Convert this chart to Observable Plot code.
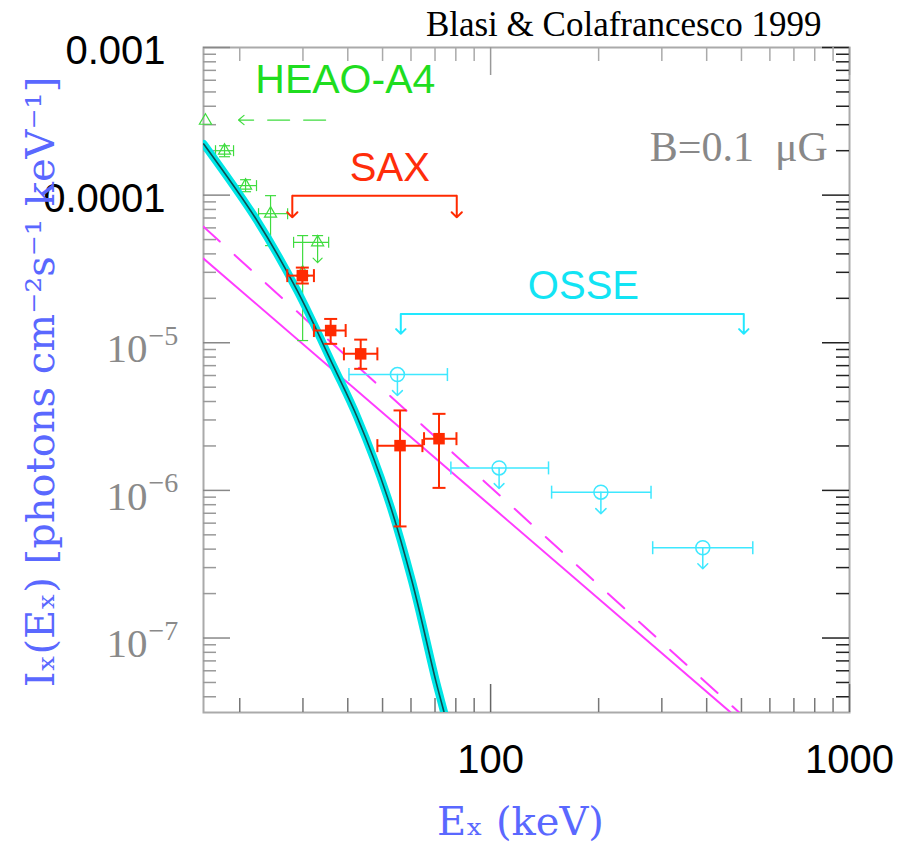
<!DOCTYPE html>
<html>
<head>
<meta charset="utf-8">
<script src="https://cdn.jsdelivr.net/npm/d3@7"></script>
<script src="https://cdn.jsdelivr.net/npm/@observablehq/plot@0.6"></script>
<style>
  body { margin: 0; background: #fff; }
</style>
</head>
<body>
<div id="chart"></div>
<script>
// Hard X-ray spectrum of the Coma cluster: data vs. model, B = 0.1 μG
// Energies in keV, intensities in photons cm^-2 s^-1 keV^-1.

// Axis ranges and ticks
const xDomain = [15.85, 1000];
const yDomain = [3.13e-8, 1e-3];
const xMajor = [100, 1000];
const xMinor = [20, 30, 40, 50, 60, 70, 80, 90, 200, 300, 400, 500, 600, 700, 800, 900];
const yMajor = [1e-3, 1e-4, 1e-5, 1e-6, 1e-7];
const yMinorMantissa = [2, 3, 4, 5, 6, 7, 8, 9];
const yMinorDecades = [1e-8, 1e-7, 1e-6, 1e-5, 1e-4];
const xTickText = ["100", "1000"];
const ySansTicks = [1e-3, 1e-4];
const ySansText = ["0.001", "0.0001"];
const yPowTicks = [1e-5, 1e-6, 1e-7];
const yPowExp = ["\u22125", "\u22126", "\u22127"];

// HEAO-A4
const heaoE    = [16.05, 18.14, 20.76, 24.37, 29.94, 32.96];
const heaoI    = [3.19e-4, 2.00e-4, 1.16e-4, 7.49e-5, 2.99e-5, 4.79e-5];
const heaoELo  = [null, 17.12, 19.22, 22.56, null, 28.25];
const heaoEHi  = [null, 19.22, 22.27, 27.19, null, 35.38];
const heaoILo  = [null, 1.82e-4, 1.055e-4, 4.55e-5, 1.035e-5, null];
const heaoIHi  = [null, 2.16e-4, 1.272e-4, 9.92e-5, 5.32e-5, 5.32e-5];
const heaoLim  = [null, null, null, null, null, 3.49e-5];
const heaoBandE = [34.70, 19.84];
const heaoBandI = 3.226e-4;

// BeppoSAX PDS
const saxE   = [29.88, 35.84, 43.45, 55.93, 71.82];
const saxI   = [2.85e-5, 1.21e-5, 8.41e-6, 2.01e-6, 2.24e-6];
const saxELo = [27.13, 32.19, 39.02, 48.36, 65.24];
const saxEHi = [32.19, 39.46, 48.36, 64.57, 80.33];
const saxILo = [2.52e-5, 9.83e-6, 6.66e-6, 5.70e-7, 1.04e-6];
const saxIHi = [3.23e-5, 1.45e-5, 1.05e-5, 3.48e-6, 3.30e-6];
const saxBandE = [28.02, 80.48];
const saxBandI = [9.92e-5, 7.07e-5];

// CGRO OSSE upper limits
const osseE   = [55.0, 105.6, 202.9, 390.1];
const osseI   = [6.09e-6, 1.42e-6, 9.73e-7, 4.09e-7];
const osseELo = [40.3, 77.5, 147.9, 282.9];
const osseEHi = [75.8, 145.0, 279.9, 537.7];
const osseLim = [4.39e-6, 1.03e-6, 6.95e-7, 2.95e-7];
const osseBandE = [56.2, 507.5];
const osseBandI = [1.569e-5, 1.149e-5];

// Models
const modelE = [15.87, 22.36, 28.9, 36.6, 42.5, 51.6, 60.3, 70.3, 74.2, 75.96];
const modelI = [2.22e-4, 6.71e-5, 2.26e-5, 6.83e-6, 3.13e-6, 9.0e-7, 2.46e-7, 5.17e-8, 3.14e-8, 2.49e-8];
const icsSolidE = [15.85, 466];
const icsSolidI = [3.72e-5, 3.14e-8];
const icsDashE  = [15.85, 492];
const icsDashI  = [6.11e-5, 3.14e-8];

// Label anchors
const heaoLabel = {e: 22.1, i: 4.94e-4, text: "HEAO-A4"};
const saxLabel  = {e: 52.4, i: 1.252e-4, text: "SAX"};
const osseLabel = {e: 181.4, i: 1.99e-5, text: "OSSE"};
const fieldLabel = {e: 869.8, i: 1.711e-4, text: "B=0.1  \u03bcG"};

// ---------------------------------------------------------------
const yMinor = yMinorDecades.flatMap(d => yMinorMantissa.map(m => m * d))
  .filter(v => v >= yDomain[0] && v <= yDomain[1]);

const W = 899, H = 848;
const mL = 203, mR = 50, mT = 47, mB = 136;
const FW = W - mL - mR, FH = H - mT - mB;

const zipRows = (cols) => cols.e.map((_, k) =>
  Object.fromEntries(Object.entries(cols).map(([key, arr]) => [key, arr[k]])));

const heao = zipRows({e: heaoE, i: heaoI, eLo: heaoELo, eHi: heaoEHi, iLo: heaoILo, iHi: heaoIHi, lim: heaoLim});
const sax  = zipRows({e: saxE, i: saxI, eLo: saxELo, eHi: saxEHi, iLo: saxILo, iHi: saxIHi});
const osse = zipRows({e: osseE, i: osseI, eLo: osseELo, eHi: osseEHi, lim: osseLim});

// end caps drawn as short strokes
const vbar = {draw(ctx, size) { const r = Math.sqrt(size / Math.PI); ctx.moveTo(0, -r); ctx.lineTo(0, r); }};
const hbar = {draw(ctx, size) { const r = Math.sqrt(size / Math.PI); ctx.moveTo(-r, 0); ctx.lineTo(r, 0); }};

function errorBars(rows, color, width, cap) {
  const hx = rows.filter(d => d.eLo != null);
  const vy = rows.filter(d => d.iLo != null || d.iHi != null);
  const lo = rows.filter(d => d.iLo != null);
  const hi = rows.filter(d => d.iHi != null);
  const st = {stroke: color, strokeWidth: width, fill: "none"};
  return [
    Plot.link(hx, {x1: "eLo", x2: "eHi", y1: "i", y2: "i", ...st}),
    Plot.dot(hx, {x: "eLo", y: "i", symbol: vbar, r: cap, ...st}),
    Plot.dot(hx, {x: "eHi", y: "i", symbol: vbar, r: cap, ...st}),
    Plot.link(vy, {x1: "e", x2: "e", y1: d => d.iLo ?? d.i, y2: d => d.iHi ?? d.i, ...st}),
    Plot.dot(lo, {x: "e", y: "iLo", symbol: hbar, r: cap, ...st}),
    Plot.dot(hi, {x: "e", y: "iHi", symbol: hbar, r: cap, ...st})
  ];
}

const green = "#3fdc3f", red = "#ff2a00", cyan = "#3ee8ff", magenta = "#ff3cff";
const sans = "Liberation Sans, Arial, sans-serif";
const serif = "DejaVu Serif, serif";
const times = "Liberation Serif, serif";

const chart = Plot.plot({
  width: W, height: H,
  marginLeft: mL, marginRight: mR, marginTop: mT, marginBottom: mB,
  x: {type: "log", domain: xDomain, axis: null},
  y: {type: "log", domain: yDomain, axis: null},
  style: {background: "#fff", overflow: "visible"},
  marks: [
    Plot.frame({stroke: "#aaa", strokeWidth: 2}),

    // inward ticks on all four sides
    Plot.tickY(yMajor, {y: d => d, insetRight: FW - 27, stroke: "#888", strokeWidth: 1.5}),
    Plot.tickY(yMinor, {y: d => d, insetRight: FW - 13, stroke: "#999", strokeWidth: 1.5}),
    Plot.tickY(yMajor, {y: d => d, insetLeft: FW - 27, stroke: "#222", strokeWidth: 1.5}),
    Plot.tickY(yMinor, {y: d => d, insetLeft: FW - 13, stroke: "#222", strokeWidth: 1.5}),
    Plot.tickX(xMajor, {x: d => d, insetBottom: FH - 28, stroke: "#999", strokeWidth: 1.5}),
    Plot.tickX(xMinor, {x: d => d, insetBottom: FH - 14, stroke: "#aaa", strokeWidth: 1.5}),
    Plot.tickX(xMajor, {x: d => d, insetTop: FH - 28, stroke: "#666", strokeWidth: 1.5}),
    Plot.tickX(xMinor, {x: d => d, insetTop: FH - 14, stroke: "#777", strokeWidth: 1.5}),

    // inverse-Compton power laws
    Plot.line(icsSolidE, {x: icsSolidE, y: icsSolidI, stroke: magenta, strokeWidth: 2, clip: true}),
    Plot.line(icsDashE, {x: icsDashE, y: icsDashI, stroke: magenta, strokeWidth: 2, strokeDasharray: "22,20", clip: true}),

    // HEAO-A4
    ...errorBars(heao, green, 1.2, 5.5),
    Plot.dot(heao, {x: "e", y: "i", symbol: "triangle", r: 4.5, stroke: green, strokeWidth: 1.2, fill: "none"}),
    Plot.arrow(heao.filter(d => d.lim != null), {x1: "e", x2: "e", y1: "i", y2: "lim", stroke: green, strokeWidth: 1.2, headLength: 8, headAngle: 90}),
    Plot.arrow([heaoBandI], {x1: heaoBandE[0], x2: heaoBandE[1], y1: d => d, y2: d => d, stroke: green, strokeWidth: 1.2, strokeDasharray: "22,14", headLength: 9, headAngle: 80}),

    // bremsstrahlung model
    Plot.line(modelE, {x: modelE, y: modelI, curve: "catmull-rom", stroke: "#00e6e6", strokeWidth: 8, clip: true}),
    Plot.line(modelE, {x: modelE, y: modelI, curve: "catmull-rom", stroke: "#0d4d52", strokeWidth: 1.6, clip: true}),

    // SAX
    Plot.link([saxBandI[0]], {x1: saxBandE[0], x2: saxBandE[1], y1: d => d, y2: d => d, stroke: red, strokeWidth: 2}),
    Plot.arrow(saxBandE, {x1: d => d, x2: d => d, y1: saxBandI[0], y2: saxBandI[1], stroke: red, strokeWidth: 2, headLength: 8, headAngle: 90}),
    ...errorBars(sax, red, 2, 6.5),
    Plot.dot(sax, {x: "e", y: "i", symbol: "square", r: 6.5, fill: red, stroke: "none"}),

    // OSSE
    Plot.link([osseBandI[0]], {x1: osseBandE[0], x2: osseBandE[1], y1: d => d, y2: d => d, stroke: "#22e8ff", strokeWidth: 2}),
    Plot.arrow(osseBandE, {x1: d => d, x2: d => d, y1: osseBandI[0], y2: osseBandI[1], stroke: "#22e8ff", strokeWidth: 2, headLength: 8, headAngle: 90}),
    ...errorBars(osse, cyan, 1.5, 6.5),
    Plot.dot(osse, {x: "e", y: "i", r: 7, stroke: cyan, strokeWidth: 1.5, fill: "none"}),
    Plot.arrow(osse, {x1: "e", x2: "e", y1: "i", y2: "lim", stroke: cyan, strokeWidth: 1.5, headLength: 8, headAngle: 90}),

    // instrument labels
    Plot.text([heaoLabel], {x: "e", y: "i", text: "text", textAnchor: "start", lineAnchor: "bottom", fill: "#1fdd1f", fontSize: 41, fontFamily: sans}),
    Plot.text([saxLabel], {x: "e", y: "i", text: "text", textAnchor: "middle", lineAnchor: "bottom", fill: "#ff2d0a", fontSize: 40, fontFamily: sans}),
    Plot.text([osseLabel], {x: "e", y: "i", text: "text", textAnchor: "middle", lineAnchor: "bottom", fill: "#12e4f4", fontSize: 40, fontFamily: sans}),
    Plot.text([fieldLabel], {x: "e", y: "i", text: "text", textAnchor: "end", lineAnchor: "bottom", fill: "#888", fontSize: 42, fontFamily: times}),

    // tick labels
    Plot.text(ySansTicks, {y: d => d, text: (d, k) => ySansText[k], frameAnchor: "left", dx: -38, dy: 4, textAnchor: "end", lineAnchor: "middle", fill: "#000", fontSize: 40, fontFamily: sans}),
    Plot.text(yPowTicks, {y: d => d, text: () => "10", frameAnchor: "left", dx: -56, dy: 6, textAnchor: "end", lineAnchor: "middle", fill: "#8a8a8a", fontSize: 41, fontFamily: times}),
    Plot.text(yPowTicks, {y: d => d, text: (d, k) => yPowExp[k], frameAnchor: "left", dx: -55, dy: -7, textAnchor: "start", lineAnchor: "middle", fill: "#8a8a8a", fontSize: 28, fontFamily: times}),
    Plot.text(xMajor, {x: d => d, text: (d, k) => xTickText[k], frameAnchor: "bottom", dy: 48, textAnchor: "middle", lineAnchor: "middle", fill: "#000", fontSize: 40, fontFamily: sans}),

    // axis titles
    Plot.text(["E\u2093 (keV)"], {text: d => d, frameAnchor: "bottom", dx: -6, dy: 122, textAnchor: "middle", lineAnchor: "bottom", fill: "#5a68ff", fontSize: 40, fontFamily: serif}),
    Plot.text(["I\u2093(E\u2093) [photons cm\u207b\u00b2s\u207b\u00b9 keV\u207b\u00b9]"], {text: d => d, frameAnchor: "left", dx: -150, dy: 2, rotate: -90, textAnchor: "middle", lineAnchor: "bottom", fill: "#5a68ff", fontSize: 40, fontFamily: serif}),

    // reference
    Plot.text(["Blasi & Colafrancesco 1999"], {text: d => d, frameAnchor: "top-right", dx: -28, dy: -12, textAnchor: "end", lineAnchor: "bottom", fill: "#000", fontSize: 35, fontFamily: times})
  ]
});

document.getElementById("chart").append(chart);
</script>
</body>
</html>
